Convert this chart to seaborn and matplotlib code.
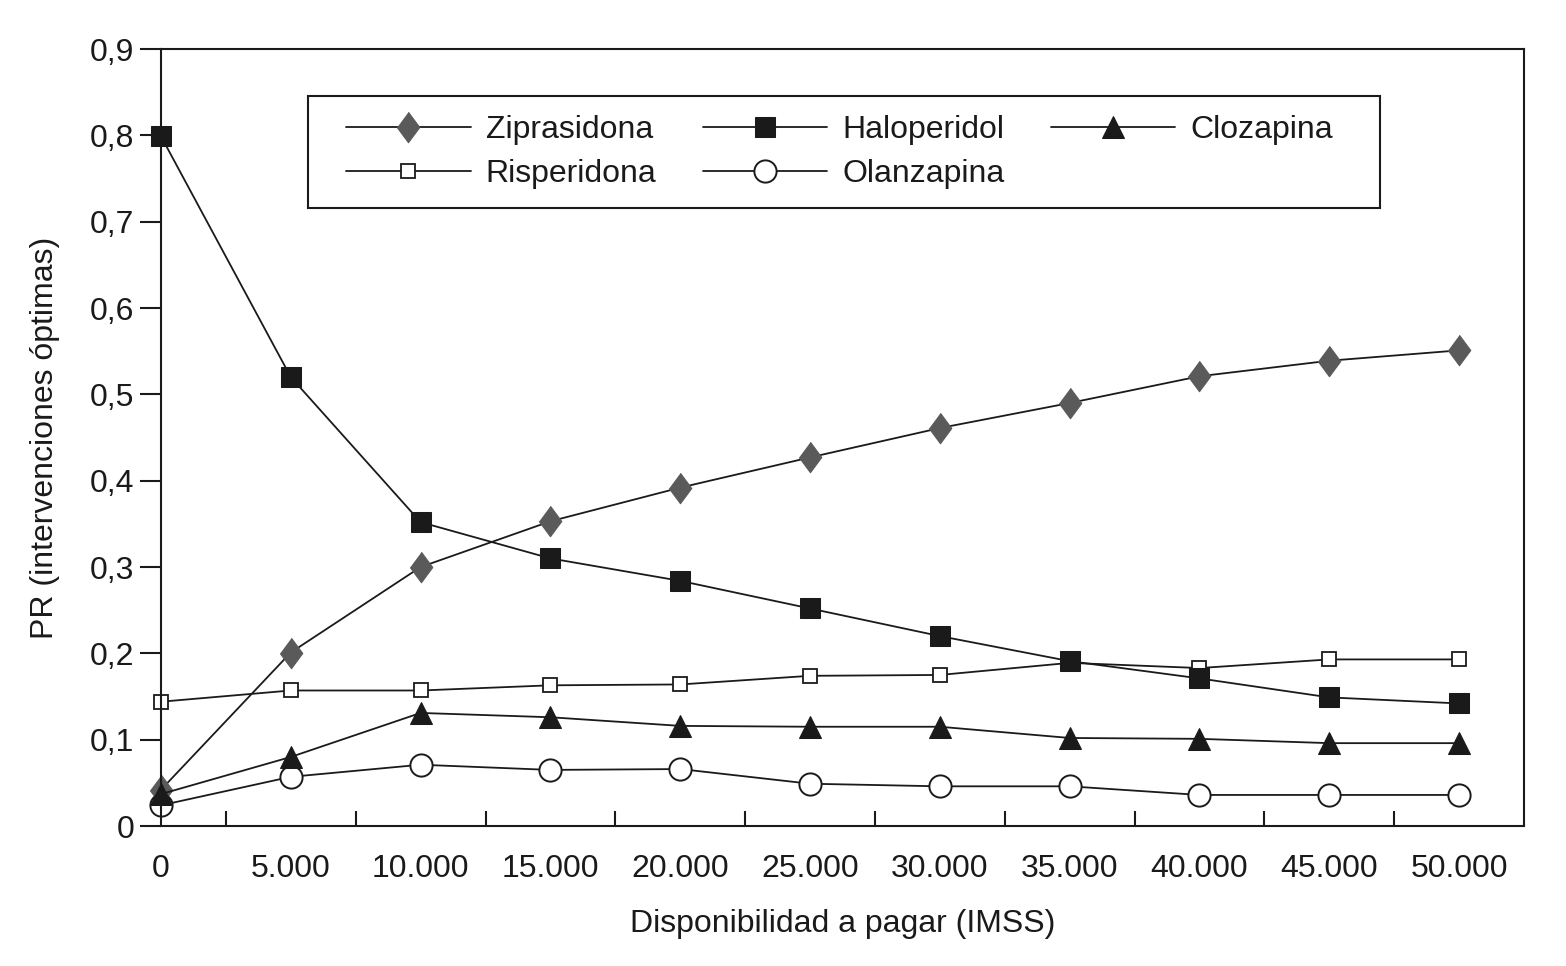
import pandas as pd
import seaborn as sns
import matplotlib.pyplot as plt
from matplotlib.patches import Rectangle
from matplotlib.ticker import FixedLocator, FuncFormatter

# disponibilidad a pagar (IMSS) and PR of each drug
pago = [0, 5000, 10000, 15000, 20000, 25000, 30000, 35000, 40000, 45000, 50000]
ziprasidona = [0.042, 0.201, 0.300, 0.353, 0.392, 0.427, 0.461, 0.490, 0.521, 0.539, 0.551]
haloperidol = [0.799, 0.520, 0.352, 0.310, 0.284, 0.252, 0.220, 0.191, 0.171, 0.149, 0.142]
clozapina = [0.037, 0.080, 0.131, 0.126, 0.116, 0.115, 0.115, 0.102, 0.101, 0.096, 0.096]
risperidona = [0.144, 0.157, 0.157, 0.163, 0.164, 0.174, 0.175, 0.189, 0.183, 0.193, 0.193]
olanzapina = [0.024, 0.057, 0.071, 0.065, 0.066, 0.049, 0.046, 0.046, 0.036, 0.036, 0.036]

INK = "#1a1a1a"
diamond = [(0, 1), (0.74, 0), (0, -1), (-0.74, 0)]

sns.set_style("ticks")
plt.rcParams["font.family"] = ["Liberation Sans", "DejaVu Sans"]
plt.rcParams["text.color"] = INK
plt.rcParams["axes.labelcolor"] = INK
plt.rcParams["xtick.color"] = INK
plt.rcParams["ytick.color"] = INK

fig = plt.figure(figsize=(15.66, 9.66), dpi=100)
ax = fig.add_axes([0.1028, 0.1449, 0.8704, 0.8043])

# order chosen so the 3-column legend reads row by row
series = [
    ("Ziprasidona", ziprasidona, dict(marker=diamond, markersize=22, markerfacecolor="#5a5a5a", markeredgecolor="#5a5a5a")),
    ("Risperidona", risperidona, dict(marker="s", markersize=10, markerfacecolor="white", markeredgecolor=INK, markeredgewidth=1.3)),
    ("Haloperidol", haloperidol, dict(marker="s", markersize=15, markerfacecolor=INK, markeredgecolor=INK)),
    ("Olanzapina", olanzapina, dict(marker="o", markersize=16, markerfacecolor="white", markeredgecolor=INK, markeredgewidth=1.4)),
    ("Clozapina", clozapina, dict(marker="^", markersize=16, markerfacecolor=INK, markeredgecolor=INK)),
]

for name, vals, style in series:
    df = pd.DataFrame({"pago": pago, "pr": vals})
    sns.lineplot(data=df, x="pago", y="pr", ax=ax, color=INK, linewidth=1.3,
                 label=name, clip_on=False, **style)

ax.set_xlim(0, 52500)
ax.set_ylim(0, 0.9)

ax.xaxis.set_major_locator(FixedLocator(pago))
ax.xaxis.set_minor_locator(FixedLocator([p + 2500 for p in pago[:-1]]))
ax.xaxis.set_major_formatter(FuncFormatter(lambda v, p: f"{v:,.0f}".replace(",", ".")))
ax.yaxis.set_major_locator(FixedLocator([i / 10 for i in range(10)]))
ax.yaxis.set_major_formatter(FuncFormatter(lambda v, p: "0" if v == 0 else f"{v:.1f}".replace(".", ",")))

ax.tick_params(axis="x", which="major", length=0, pad=20, labelsize=23)
ax.tick_params(axis="x", which="minor", direction="in", length=11, width=1.5)
ax.tick_params(axis="y", direction="out", length=15, width=1.5, pad=4, labelsize=23)

for s in ax.spines.values():
    s.set_visible(True)
    s.set_linewidth(1.5)
    s.set_color(INK)

ax.set_xlabel("Disponibilidad a pagar (IMSS)", fontsize=23, labelpad=18)
ax.set_ylabel("PR (intervenciones óptimas)", fontsize=23, labelpad=22)

# legend box drawn separately so its padding can match the original
ax.add_patch(Rectangle((0.1078, 0.7954), 0.7865, 0.1441, transform=ax.transAxes,
                       facecolor="white", edgecolor=INK, linewidth=1.5, zorder=4))
leg = ax.legend(loc="upper left", bbox_to_anchor=(0.1357, 0.9151), borderaxespad=0,
                ncol=3, fontsize=23, frameon=False, handlelength=3.9,
                handletextpad=0.47, columnspacing=1.45, borderpad=0,
                labelspacing=0.45)
leg.set_zorder(5)

plt.savefig("out.png", dpi=100)
